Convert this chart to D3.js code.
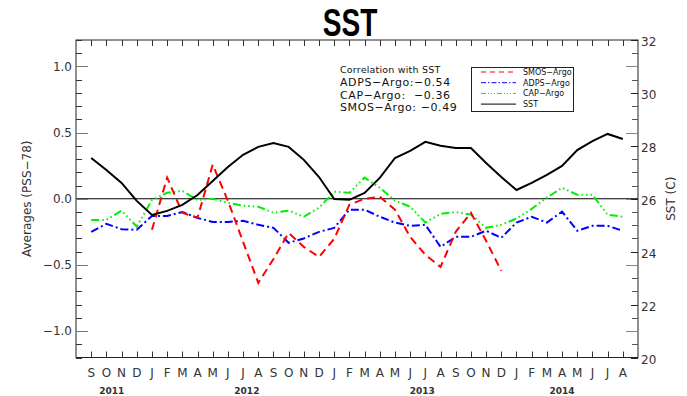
<!DOCTYPE html>
<html>
<head>
<meta charset="utf-8">
<script src="https://cdn.jsdelivr.net/npm/d3@7"></script>
<style>
  html, body { margin: 0; padding: 0; background: #fff; }
  svg { display: block; }
  text { font-family: "DejaVu Sans", "Liberation Sans", sans-serif; }
</style>
</head>
<body>
<svg id="chart" width="687" height="396"></svg>
<script>
// Month labels from Sep 2011 to Aug 2014
const months = ["S","O","N","D","J","F","M","A","M","J","J","A",
                "S","O","N","D","J","F","M","A","M","J","J","A",
                "S","O","N","D","J","F","M","A","M","J","J","A"];
const years = ["2011", "2012", "2013", "2014"];
// month index (fractional) under which each year label sits
const yearAt = [1.35, 10.25, 21.8, 31.0];

// Sea surface temperature (deg C, right axis)
const sst = [27.54, 27.09, 26.60, 25.92, 25.39, 25.54, 25.77, 26.14, 26.67, 27.20,
             27.66, 27.96, 28.11, 27.96, 27.47, 26.82, 25.99, 25.96, 26.22, 26.79,
             27.54, 27.81, 28.15, 28.00, 27.92, 27.92, 27.35, 26.82, 26.33, 26.60,
             26.90, 27.24, 27.84, 28.18, 28.45, 28.26];

// Salinity differences (PSS-78, left axis)
const adps = [-0.25, -0.19, -0.23, -0.235, -0.13, -0.13, -0.10, -0.145, -0.175, -0.175,
              -0.167, -0.197, -0.22, -0.333, -0.30, -0.25, -0.22, -0.083, -0.083, -0.136,
              -0.18, -0.205, -0.197, -0.364, -0.288, -0.288, -0.242, -0.295, -0.18, -0.136,
              -0.18, -0.098, -0.242, -0.205, -0.205, -0.242];

const cap = [-0.16, -0.16, -0.09, -0.21, -0.01, 0.045, 0.06, -0.01, 0.0, -0.03,
             -0.053, -0.06, -0.106, -0.09, -0.136, -0.068, 0.053, 0.045, 0.16, 0.083,
             -0.015, -0.06, -0.18, -0.114, -0.10, -0.12, -0.22, -0.197, -0.15, -0.076,
             0.008, 0.083, 0.03, 0.03, -0.12, -0.136];

const smos = [null, null, null, null,
              -0.235, 0.16, -0.106, -0.144, 0.258, -0.015, -0.326, -0.636,
              -0.455, -0.258, -0.364, -0.44, -0.303, -0.045, 0.0, 0.015,
              -0.083, -0.288, -0.424, -0.515, -0.25, -0.106, -0.318, -0.545,
              null, null, null, null, null, null, null, null];

const seriesNames = ["SMOS\u2212Argo", "ADPS\u2212Argo", "CAP\u2212Argo", "SST"];
const corrLines = ["Correlation with SST",
                   "ADPS\u2212Argo:\u22120.54",
                   "CAP\u2212Argo:  \u22120.36",
                   "SMOS\u2212Argo: \u22120.49"];

(function draw() {
  const svg = d3.select("#chart");
  const pLeft = 76, pRight = 638, pTop = 40, pBottom = 357.5;

  const x = d3.scaleLinear().domain([-1, 36]).range([pLeft, pRight]);
  const yL = d3.scaleLinear().domain([-1.2, 1.2]).range([pBottom, pTop]);
  const yR = d3.scaleLinear().domain([20, 32]).range([pBottom, pTop]);

  const minus = s => s.replace("-", "\u2212");

  // Title (condensed bold)
  svg.append("text")
    .attr("transform", "translate(350,36) scale(0.72,1)")
    .attr("text-anchor", "middle")
    .style("font-family", "'Liberation Sans', 'Arial', sans-serif")
    .style("font-weight", "bold")
    .style("font-size", "39px")
    .attr("fill", "#000")
    .text("SST");

  // Zero line
  svg.append("line")
    .attr("x1", pLeft).attr("x2", pRight)
    .attr("y1", yL(0)).attr("y2", yL(0))
    .attr("stroke", "#000").attr("stroke-width", 1);

  // Data lines
  const lineL = d3.line()
    .defined(d => d != null)
    .x((d, i) => x(i))
    .y(d => yL(d));
  const lineR = d3.line()
    .x((d, i) => x(i))
    .y(d => yR(d));

  const styles = [
    { color: "#ff0000", dash: "8,5", legendDash: "5,4" },
    { color: "#0000ff", dash: "8,3,2,3", legendDash: "5,2,1.5,2" },
    { color: "#00ee00", dash: "8,3,1.5,3,1.5,3,1.5,3", legendDash: "5,2,1,2,1,2,1,2" },
    { color: "#000000", dash: null, legendDash: null }
  ];

  svg.append("path").datum(cap)
    .attr("d", lineL).attr("fill", "none")
    .attr("stroke", styles[2].color).attr("stroke-width", 2)
    .attr("stroke-dasharray", styles[2].dash);
  svg.append("path").datum(adps)
    .attr("d", lineL).attr("fill", "none")
    .attr("stroke", styles[1].color).attr("stroke-width", 2)
    .attr("stroke-dasharray", styles[1].dash);
  svg.append("path").datum(smos)
    .attr("d", lineL).attr("fill", "none")
    .attr("stroke", styles[0].color).attr("stroke-width", 2)
    .attr("stroke-dasharray", styles[0].dash);
  svg.append("path").datum(sst)
    .attr("d", lineR).attr("fill", "none")
    .attr("stroke", styles[3].color).attr("stroke-width", 2);

  // Frame
  svg.append("rect")
    .attr("x", pLeft).attr("y", pTop)
    .attr("width", pRight - pLeft).attr("height", pBottom - pTop)
    .attr("fill", "none").attr("stroke", "#222").attr("stroke-width", 1);

  // Month ticks on top and bottom (inward)
  const tickG = svg.append("g").attr("stroke", "#333").attr("stroke-width", 1);
  d3.range(months.length).forEach(i => {
    const xx = Math.round(x(i)) + 0.5;
    tickG.append("line").attr("x1", xx).attr("x2", xx).attr("y1", pBottom).attr("y2", pBottom - 6);
    tickG.append("line").attr("x1", xx).attr("x2", xx).attr("y1", pTop).attr("y2", pTop + 6);
  });

  // Left axis ticks (also mirrored on the right edge)
  d3.range(-12, 13).forEach(k => {
    const v = k / 10;
    const yy = Math.round(yL(v)) + 0.5;
    const major = k % 5 === 0;
    const len = major ? 12 : 6;
    tickG.append("line").attr("x1", pLeft).attr("x2", pLeft + len).attr("y1", yy).attr("y2", yy)
      .attr("stroke", major ? "#777" : "#333");
    tickG.append("line").attr("x1", pRight).attr("x2", pRight - len).attr("y1", yy).attr("y2", yy)
      .attr("stroke", major ? "#888" : "#555");
  });

  // Right axis ticks at the labelled values
  d3.range(20, 33, 2).forEach(v => {
    const yy = Math.round(yR(v)) + 0.5;
    tickG.append("line").attr("x1", pRight).attr("x2", pRight - 7).attr("y1", yy).attr("y2", yy)
      .attr("stroke", "#222");
  });

  // Left axis labels
  svg.append("g").selectAll("text")
    .data([-1, -0.5, 0, 0.5, 1])
    .join("text")
    .attr("x", 72).attr("y", d => yL(d))
    .attr("dy", "0.36em")
    .attr("text-anchor", "end")
    .style("font-size", "12px")
    .attr("fill", "#333")
    .text(d => minus(d3.format(".1f")(d)));

  // Right axis labels
  svg.append("g").selectAll("text")
    .data(d3.range(20, 33, 2))
    .join("text")
    .attr("x", 641).attr("y", d => yR(d) + 2)
    .attr("dy", "0.36em")
    .style("font-size", "12px")
    .attr("fill", "#333")
    .text(d => d);

  // Axis titles
  svg.append("text")
    .attr("transform", `translate(31,${yL(0)}) rotate(-90)`)
    .attr("text-anchor", "middle")
    .style("font-size", "12px").attr("fill", "#333")
    .text("Averages (PSS\u221278)");
  svg.append("text")
    .attr("transform", `translate(675,${yL(0)}) rotate(-90)`)
    .attr("text-anchor", "middle")
    .style("font-size", "12px").attr("fill", "#333")
    .text("SST (C)");

  // Month labels
  svg.append("g").selectAll("text")
    .data(months)
    .join("text")
    .attr("x", (d, i) => x(i)).attr("y", 377)
    .attr("text-anchor", "middle")
    .style("font-size", "12px").attr("fill", "#333")
    .text(d => d);

  // Year labels
  svg.append("g").selectAll("text")
    .data(years)
    .join("text")
    .attr("x", (d, i) => x(yearAt[i])).attr("y", 394)
    .attr("text-anchor", "middle")
    .style("font-size", "9px").style("font-weight", "bold").attr("fill", "#333")
    .text(d => d);

  // Correlation block
  svg.append("g").selectAll("text")
    .data(corrLines)
    .join("text")
    .attr("x", 340)
    .attr("y", (d, i) => [73, 86, 98.5, 111][i])
    .style("font-size", (d, i) => i === 0 ? "9.5px" : "11px")
    .style("letter-spacing", (d, i) => i === 0 ? "0.2px" : "0.6px")
    .style("white-space", "pre")
    .attr("fill", "#111")
    .text(d => d);

  // Legend
  const lg = svg.append("g");
  lg.append("rect")
    .attr("x", 471.5).attr("y", 67.5).attr("width", 102).attr("height", 44)
    .attr("fill", "#fff").attr("stroke", "#222").attr("stroke-width", 1);
  seriesNames.forEach((name, i) => {
    const yy = 72 + i * 10.7;
    lg.append("line")
      .attr("x1", 481).attr("x2", 516).attr("y1", yy).attr("y2", yy)
      .attr("stroke", styles[i].color).attr("stroke-width", 1)
      .attr("stroke-dasharray", styles[i].legendDash);
    lg.append("text")
      .attr("x", 523).attr("y", yy).attr("dy", "0.35em")
      .style("font-size", "8px").attr("fill", "#111")
      .text(name);
  });
})();
</script>
</body>
</html>
